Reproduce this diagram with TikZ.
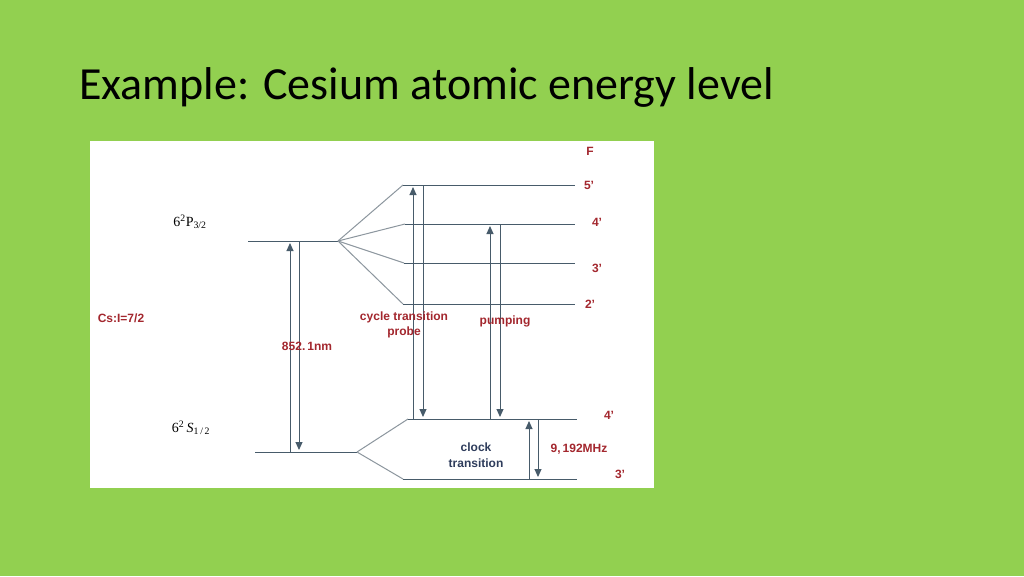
\documentclass[tikz,border=0pt]{standalone}
\usepackage{fontspec}
\usetikzlibrary{arrows.meta}
\newfontfamily\titlefont{Carlito}
\newfontfamily\arialf{Liberation Sans}
\newfontfamily\serifl{Liberation Serif}
\definecolor{bggreen}{HTML}{92D050}
\definecolor{lvl}{HTML}{475B6A}
\definecolor{fan}{HTML}{8C969E}
\definecolor{redlab}{HTML}{A3272E}
\definecolor{bluelab}{HTML}{2F3D5C}
\tikzset{
  level/.style={draw=lvl, line width=1pt},
  fanline/.style={draw=fan, line width=1pt},
  trans/.style={draw=lvl, line width=1pt, -{Triangle[width=7pt,length=8pt]}, shorten >=2pt},
  redtext/.style={text=redlab, font=\arialf\bfseries\fontsize{12}{14}\selectfont, inner sep=0pt},
  bluetext/.style={text=bluelab, font=\arialf\bfseries\fontsize{12}{14}\selectfont, inner sep=0pt},
  termtext/.style={text=black, font=\serifl\fontsize{14}{16}\selectfont, inner sep=0pt},
}
\begin{document}
\begin{tikzpicture}[x=1pt,y=-1pt]
\useasboundingbox (0,0) rectangle (1024,576);
\fill[bggreen] (0,0) rectangle (1024,576);
\node[anchor=base west, inner sep=0pt, font=\titlefont\fontsize{46}{52}\selectfont] (title) at (79,99) {Example: Cesium atomic energy level};
\fill[white] (90,141) rectangle (654,488);

% P3/2 manifold
\coordinate (Pl) at (248,241);
\coordinate (Pr) at (338,241);
\coordinate (P5a) at (403,185); \coordinate (P5b) at (575,185);
\coordinate (P4a) at (405,224); \coordinate (P4b) at (575,224);
\coordinate (P3a) at (404,263); \coordinate (P3b) at (575,263);
\coordinate (P2a) at (403,304); \coordinate (P2b) at (575,304);
\draw[level] (Pl) -- (Pr);
\draw[fanline] (Pr) -- (P5a); \draw[fanline] (Pr) -- (P4a);
\draw[fanline] (Pr) -- (P3a); \draw[fanline] (Pr) -- (P2a);
\draw[level] (P5a) -- (P5b);
\draw[level] (P4a) -- (P4b);
\draw[level] (P3a) -- (P3b);
\draw[level] (P2a) -- (P2b);

% S1/2 manifold
\coordinate (Sl) at (255,452);
\coordinate (Sr) at (357,452);
\coordinate (S4a) at (408,419); \coordinate (S4b) at (577,419);
\coordinate (S3a) at (403,479); \coordinate (S3b) at (577,479);
\draw[level] (Sl) -- (Sr);
\draw[fanline] (Sr) -- (S4a); \draw[fanline] (Sr) -- (S3a);
\draw[level] (S4a) -- (S4b);
\draw[level] (S3a) -- (S3b);

% transition end points
\coordinate (dUb) at (290,452); \coordinate (dUt) at (290,241);
\coordinate (dDt) at (299,241); \coordinate (dDb) at (299,452);
\coordinate (cUb) at (413,419); \coordinate (cUt) at (413,185);
\coordinate (cDt) at (423,185); \coordinate (cDb) at (423,419);
\coordinate (pUb) at (490,419); \coordinate (pUt) at (490,224);
\coordinate (pDt) at (500,224); \coordinate (pDb) at (500,419);
\coordinate (kUb) at (529,479); \coordinate (kUt) at (529,419);
\coordinate (kDt) at (538,419); \coordinate (kDb) at (538,479);
\draw[trans] (dUb) -- (dUt);
\draw[trans] (dDt) -- (dDb);
\draw[trans] (cUb) -- (cUt);
\draw[trans] (cDt) -- (cDb);
\draw[trans] (pUb) -- (pUt);
\draw[trans] (pDt) -- (pDb);
\draw[trans] (kUb) -- (kUt);
\draw[trans] (kDt) -- (kDb);

% labels
\node[termtext] (tP) at (190,222) {6\textsuperscript{2}P\textsubscript{3/2}};
\node[termtext] (tS) at (191,428) {6\textsuperscript{2}\,\textit{S}\textsubscript{1\,/\,2}};
\node[redtext] (lF) at (590,151) {F};
\node[redtext] (l5) at (589,185) {5’};
\node[redtext] (l4) at (597,222) {4’};
\node[redtext] (l3) at (597,268) {3’};
\node[redtext] (l2) at (590,304) {2’};
\node[redtext] (lS4) at (609,415) {4’};
\node[redtext] (lS3) at (620,474) {3’};
\node[redtext] (cs) at (121,318) {Cs:I=7/2};
\node[redtext] (cyc) at (404,317) {cycle transition};
\node[redtext] (prb) at (404,332) {probe};
\node[redtext] (pmp) at (505,321) {pumping};
\node[redtext] (nm) at (307,346) {852.\,1nm};
\node[redtext] (mhz) at (579,449) {9,\,192MHz};
\node[bluetext] (clk) at (476,447) {clock};
\node[bluetext] (trn) at (476,463) {transition};
\end{tikzpicture}
\end{document}
